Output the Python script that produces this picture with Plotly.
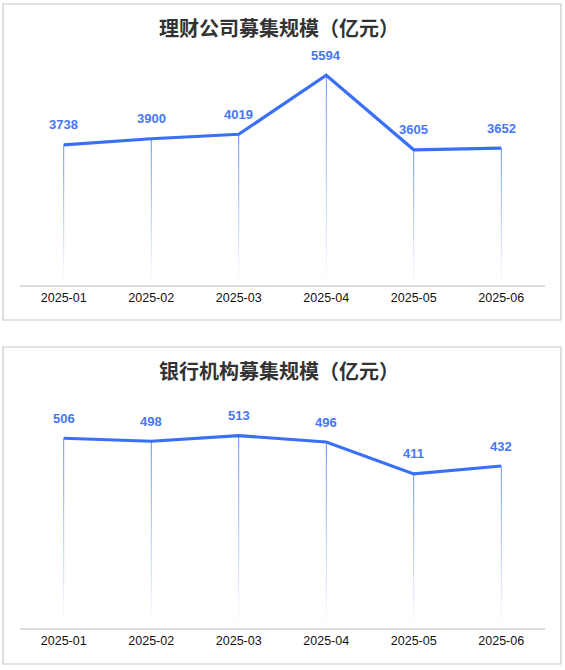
import plotly.graph_objects as go

W, H = 565, 670

months = ['2025-01', '2025-02', '2025-03', '2025-04', '2025-05', '2025-06']
wealth_co = [3738, 3900, 4019, 5594, 3605, 3652]
bank_inst = [506, 498, 513, 496, 411, 432]

titles = ['理财公司募集规模（亿元）', '银行机构募集规模（亿元）']
y_max = [6000, 600]

BLUE = '#3a70f5'
GRID = '#dcdcdc'

# panel boxes in pixels: (top, bottom); plot area (top, bottom)
panels = [dict(box=(4, 320), plot=(60, 285), title_y=27),
          dict(box=(347, 664), plot=(403, 628), title_y=370)]
x_px = (20, 545)


def py(p):
    return 1 - p / H


fig = go.Figure()
layout = {}
shapes = []
annotations = []

for k, (vals, pan) in enumerate(zip([wealth_co, bank_inst], panels)):
    n = k + 1
    xa, ya = 'x' if n == 1 else 'x%d' % n, 'y' if n == 1 else 'y%d' % n
    xs = list(range(len(months)))

    # gradient drop lines
    hw = 0.0045
    for i, v in zip(xs, vals):
        fig.add_trace(go.Scatter(
            x=[i - hw, i + hw, i + hw, i - hw, i - hw],
            y=[0, 0, v, v, 0],
            mode='lines', line=dict(width=0),
            fill='toself',
            fillgradient=dict(type='vertical',
                              colorscale=[[0, 'rgba(58,112,245,0)'],
                                          [1, 'rgba(58,112,245,1)']]),
            hoverinfo='skip', showlegend=False,
            xaxis=xa, yaxis=ya,
        ))

    fig.add_trace(go.Scatter(
        x=xs, y=vals, mode='lines',
        line=dict(color=BLUE, width=3.2),
        hovertemplate='%{y}<extra></extra>',
        showlegend=False, xaxis=xa, yaxis=ya,
    ))

    for i, v in zip(xs, vals):
        annotations.append(dict(
            x=i, y=v, xref=xa, yref=ya, text='<b>%d</b>' % v,
            showarrow=False, yshift=20,
            font=dict(family='Liberation Sans, Arial', size=13, color='#4677f5'),
        ))

    layout['xaxis' if n == 1 else 'xaxis%d' % n] = dict(
        domain=[x_px[0] / W, x_px[1] / W],
        range=[-0.5, len(months) - 0.5],
        tickvals=xs, ticktext=months,
        showgrid=False, zeroline=False,
        showline=True, linecolor=GRID, linewidth=1.5,
        ticks='', tickfont=dict(family='Liberation Sans, Arial', size=12.5, color='#111'),
        fixedrange=True, anchor=ya,
    )
    layout['yaxis' if n == 1 else 'yaxis%d' % n] = dict(
        domain=[py(pan['plot'][1]), py(pan['plot'][0])],
        range=[0, y_max[k]],
        showgrid=False, zeroline=False, showticklabels=False,
        fixedrange=True, anchor=xa,
    )

    shapes.append(dict(type='rect', xref='paper', yref='paper',
                       x0=3 / W, x1=561 / W,
                       y0=py(pan['box'][1]), y1=py(pan['box'][0]),
                       line=dict(color='#c8c8c8', width=1.2), layer='below'))

    annotations.append(dict(
        x=279 / W, y=py(pan['title_y']), xref='paper', yref='paper',
        text='<b>%s</b>' % titles[k], showarrow=False,
        font=dict(family='Noto Sans CJK SC', size=20, color='#333'),
        xanchor='center', yanchor='middle',
    ))

fig.update_layout(
    width=W, height=H,
    margin=dict(l=0, r=0, t=0, b=0),
    paper_bgcolor='white', plot_bgcolor='white',
    shapes=shapes, annotations=annotations,
    **layout,
)

fig.write_html('out.html', config={'displayModeBar': False},
               post_script="document.body.style.margin='0';")
